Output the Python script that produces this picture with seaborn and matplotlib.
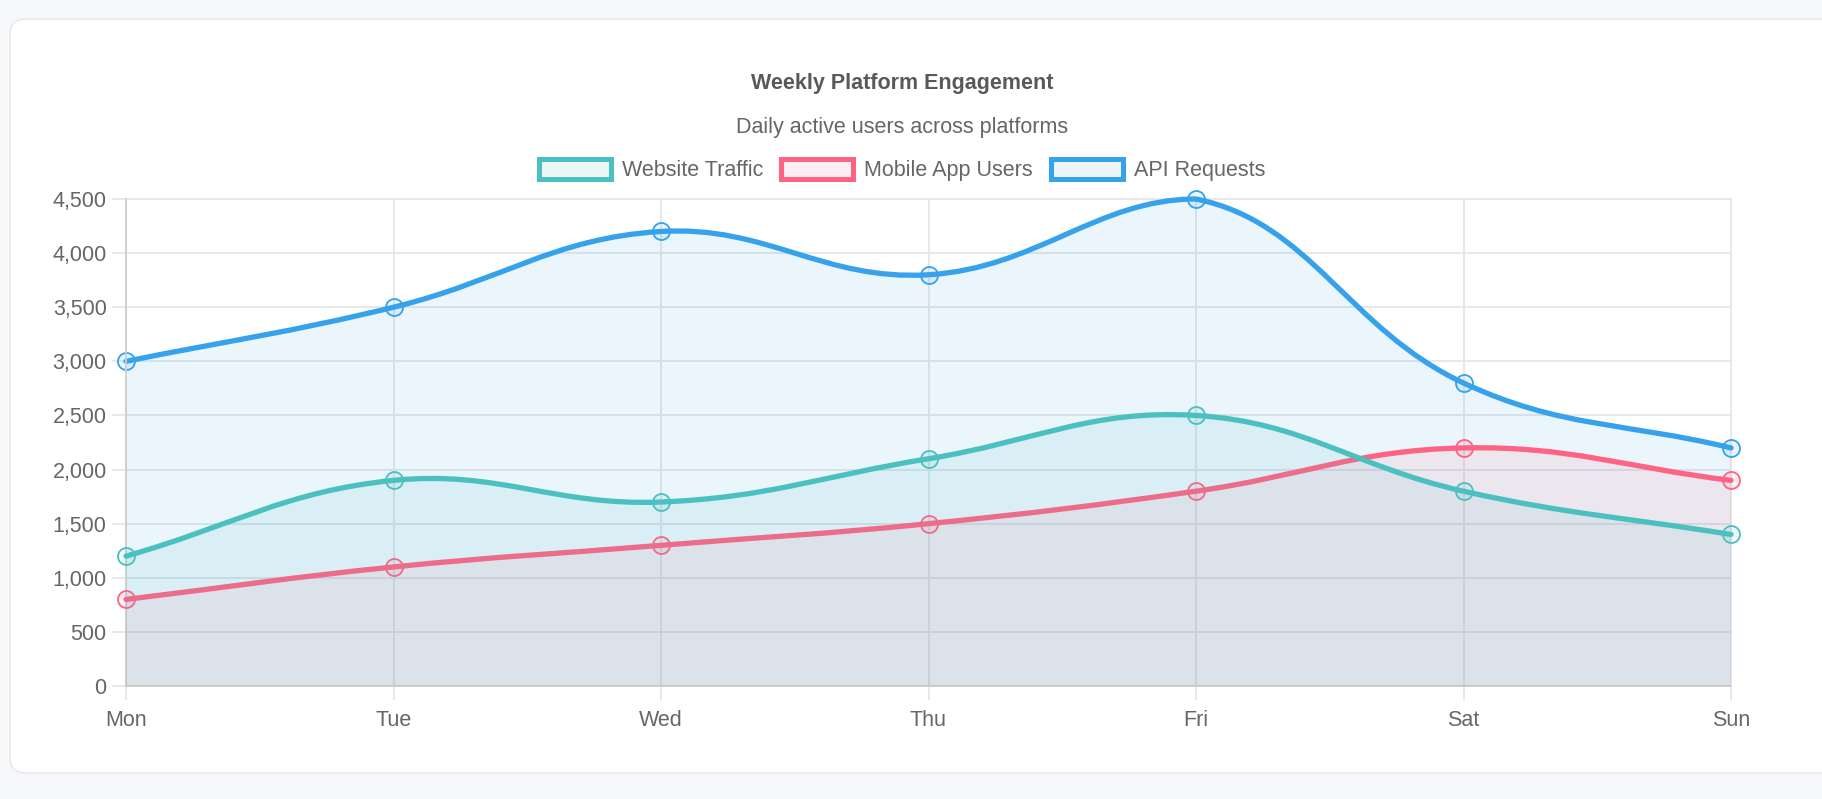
import numpy as np
import matplotlib.pyplot as plt
import matplotlib.patches as mpatches
from matplotlib.path import Path
from matplotlib.ticker import FuncFormatter
from matplotlib.colors import to_rgba
import seaborn as sns

# ------------------------------------------ Data ------------------------------------------ #
days = ['Mon', 'Tue', 'Wed', 'Thu', 'Fri', 'Sat', 'Sun']
website_traffic = [1200, 1900, 1700, 2100, 2500, 1800, 1400]
mobile_app_users = [800, 1100, 1300, 1500, 1800, 2200, 1900]
api_requests = [3000, 3500, 4200, 3800, 4500, 2800, 2200]
series_names = ['Website Traffic', 'Mobile App Users', 'API Requests']
y_ticks = list(range(0, 4501, 500))

title = 'Weekly Platform Engagement'
subtitle = 'Daily active users across platforms'

# ------------------------------------------ Style ------------------------------------------ #
teal = '#4bc0c0'
pink = '#ff6384'
blue = '#36a2eb'
text_col = '#666666'
grid_col = '#e6e6e6'
axis_col = '#cfcfcf'
font_size = 15.5
W, H = 1822, 799

sns.set_theme(style='white')
plt.rcParams['font.family'] = ['Liberation Sans', 'DejaVu Sans']


def fill_of(c):
    return to_rgba(c, 0.1)


# chart.js-like cubic bezier (tension 0.4), control points worked out in pixel space
def smooth_path(ax, xs, ys, tension=0.4, close=False):
    pts = ax.transData.transform(np.column_stack([xs, ys]))
    n = len(pts)
    cp_prev = pts.copy()
    cp_next = pts.copy()
    for i in range(n):
        prev = pts[i - 1] if i > 0 else pts[i]
        nxt = pts[i + 1] if i < n - 1 else pts[i]
        d01 = np.hypot(*(pts[i] - prev))
        d12 = np.hypot(*(nxt - pts[i]))
        tot = d01 + d12
        s01 = d01 / tot if tot else 0
        s12 = d12 / tot if tot else 0
        cp_prev[i] = pts[i] - tension * s01 * (nxt - prev)
        cp_next[i] = pts[i] + tension * s12 * (nxt - prev)
    bb = ax.bbox
    for cp in (cp_prev, cp_next):
        cp[:, 0] = np.clip(cp[:, 0], bb.x0, bb.x1)
        cp[:, 1] = np.clip(cp[:, 1], bb.y0, bb.y1)
    inv = ax.transData.inverted()
    pts_d, prev_d, next_d = inv.transform(pts), inv.transform(cp_prev), inv.transform(cp_next)
    verts = [pts_d[0]]
    codes = [Path.MOVETO]
    for i in range(n - 1):
        verts += [next_d[i], prev_d[i + 1], pts_d[i + 1]]
        codes += [Path.CURVE4] * 3
    if close:
        verts += [(xs[-1], 0), (xs[0], 0), (xs[0], 0)]
        codes += [Path.LINETO, Path.LINETO, Path.CLOSEPOLY]
    return Path(verts, codes)


# ------------------------------------------ Figure ------------------------------------------ #
fig = plt.figure(figsize=(W / 100, H / 100), dpi=100, facecolor='#f7f8fa')

card = mpatches.FancyBboxPatch((0.10, (H - 773) / 100), 18.4, (773 - 19) / 100,
                               boxstyle='round,pad=0,rounding_size=0.16',
                               transform=fig.dpi_scale_trans, facecolor='white',
                               edgecolor='#e3e6ea', linewidth=1.0, zorder=-10)
fig.patches.append(card)

ax = fig.add_axes([126 / W, (H - 686) / H, (1731 - 126) / W, (686 - 199) / H])
ax.set_facecolor('none')
x_pos = np.arange(len(days))
ax.set_xlim(0, len(days) - 1)
ax.set_ylim(0, 4500)

series = [(series_names[2], api_requests, blue, 2),
          (series_names[1], mobile_app_users, pink, 3),
          (series_names[0], website_traffic, teal, 4)]

for name, vals, col, z in series:
    ax.add_patch(mpatches.PathPatch(smooth_path(ax, x_pos, vals, close=True),
                                    facecolor=fill_of(col), edgecolor='none', zorder=z))
    ax.add_patch(mpatches.PathPatch(smooth_path(ax, x_pos, vals), facecolor='none',
                                    edgecolor=col, linewidth=3.8, capstyle='round',
                                    joinstyle='round', zorder=z + 0.1, clip_on=False))
    sns.scatterplot(x=x_pos, y=vals, ax=ax, s=150, color=col, facecolor=fill_of(col),
                    edgecolor=col, linewidth=1.3, zorder=z + 0.2, legend=False)
for coll in ax.collections:
    coll.set_clip_on(False)

# axes, grid, ticks
ax.set_xticks(x_pos)
ax.set_xticklabels(days)
ax.set_yticks(y_ticks)
ax.yaxis.set_major_formatter(FuncFormatter(lambda v, p: f'{int(v):,}'))
ax.set_axisbelow(True)
ax.grid(True, color=grid_col, linewidth=1.3)
for gl in ax.get_xgridlines() + ax.get_ygridlines():
    gl.set_clip_on(False)
ax.tick_params(axis='both', bottom=True, left=True, length=10, width=1.3, color=grid_col,
               labelsize=font_size, labelcolor=text_col)
ax.tick_params(axis='y', pad=3.9)
ax.tick_params(axis='x', pad=7.5)
sns.despine(ax=ax, top=True, right=True)
for side in ('left', 'bottom'):
    ax.spines[side].set_color(axis_col)
    ax.spines[side].set_linewidth(1.3)

# titles
fig.text(902 / W, 1 - 83 / H, title, ha='center', va='center', fontsize=font_size,
         fontweight='bold', color='#595959')
fig.text(902 / W, 1 - 128 / H, subtitle, ha='center', va='center', fontsize=font_size,
         color=text_col)

# legend
handles = [mpatches.Patch(facecolor=fill_of(c), edgecolor=c, linewidth=3.6, label=n)
           for n, c in zip(series_names, [teal, pink, blue])]
fig.legend(handles=handles, loc='center', bbox_to_anchor=(902 / W, 1 - 170 / H), ncol=3,
           frameon=False, handlelength=3.35, handleheight=1.07, handletextpad=0.5,
           columnspacing=0.84, fontsize=font_size, labelcolor=text_col, borderaxespad=0)

fig.savefig('out.png', dpi=100, facecolor=fig.get_facecolor())
